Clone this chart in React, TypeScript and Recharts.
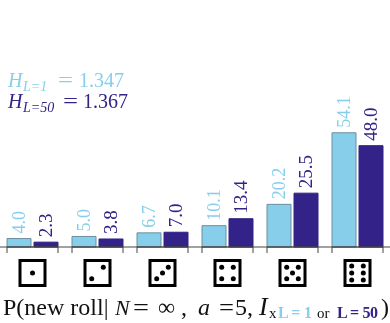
import React from "react"
import { Bar, BarChart, LabelList, XAxis, YAxis } from "recharts"

const faces = [1, 2, 3, 4, 5, 6]
const lowL = [4.0, 5.0, 6.7, 10.1, 20.2, 54.1]
const highL = [2.3, 3.8, 7.0, 13.4, 25.5, 48.0]

const data = faces.map((face, i) => ({ face, lowL: lowL[i], highL: highL[i] }))

const LIGHT = "#87ceeb"
const DARK = "#332288"
const FONT = "'Liberation Serif', serif"

// pip offsets for the die icons
const a = 5.8
const pips: Record<number, [number, number][]> = {
  1: [[0, 0]],
  2: [[a, -a], [-a, a]],
  3: [[a, -a], [0, 0], [-a, a]],
  4: [[-a, -a], [a, -a], [-a, a], [a, a]],
  5: [[-a, -a], [a, -a], [0, 0], [-a, a], [a, a]],
  6: [[-a, -7], [a, -7], [-a, 0], [a, 0], [-a, 7], [a, 7]],
}

function DieTick({ x, y, payload }: any) {
  const cy = y + 26
  return (
    <g>
      <path d={`M${x - 25.5} ${y + 6}V${y}H${x + 25.5}V${y + 6}`} fill="none" stroke="#444" strokeWidth={1} />
      <rect x={x - 12.5} y={cy - 12.5} width={25} height={25} fill="#fff" stroke="#000" strokeWidth={3} />
      {pips[payload.value].map(([dx, dy], i) => (
        <circle key={i} cx={x + dx} cy={cy + dy} r={2.5} fill="#000" />
      ))}
    </g>
  )
}

function ValueLabel({ x, y, width, value, fill, fontSize }: any) {
  const cx = x + width / 2
  const top = y - 5
  return (
    <text
      x={cx}
      y={top}
      transform={`rotate(-90 ${cx} ${top})`}
      dominantBaseline="central"
      fill={fill}
      fontSize={fontSize}
      fontFamily={FONT}
    >
      {Number(value).toFixed(1)}
    </text>
  )
}

function Entropy({ y, fill, sub, eqX, valueX, value }: any) {
  return (
    <g fill={fill}>
      <text x={8} y={y} fontSize={20} fontStyle="italic">H</text>
      <text x={23} y={y + 4} fontSize={14} fontStyle="italic">{sub}</text>
      <text x={eqX} y={y} fontSize={20} textLength={15} lengthAdjust="spacingAndGlyphs">=</text>
      <text x={valueX} y={y} fontSize={20}>{value}</text>
    </g>
  )
}

// annotations sit in their own svg on top of the chart
function Annotations() {
  return (
    <svg
      width={390}
      height={323}
      fontFamily={FONT}
      style={{ position: "absolute", left: 0, top: 0 }}
    >
      <Entropy y={87} fill={LIGHT} sub="L=1" eqX={58} valueX={79} value="1.347" />
      <Entropy y={108} fill={DARK} sub="L=50" eqX={63} valueX={83} value="1.367" />
      <g fontSize={24} fill="#111">
        <text x={3} y={315}>P(new roll|</text>
        <text x={115} y={315} fontStyle="italic" fontSize={22}>N</text>
        <text x={133} y={315} textLength={16} lengthAdjust="spacingAndGlyphs">=</text>
        <text x={158} y={315}>∞</text>
        <text x={181} y={315}>,</text>
        <text x={198} y={315} fontStyle="italic">a</text>
        <text x={219} y={315} textLength={15} lengthAdjust="spacingAndGlyphs">=</text>
        <text x={235} y={315}>5</text>
        <text x={247} y={315}>,</text>
        <text x={259} y={315} fontStyle="italic" fontSize={26}>I</text>
        <text x={269} y={318} fontSize={15}>x</text>
        <text x={278} y={318} fontSize={16} fontWeight="bold" fill={LIGHT} textLength={34}>L = 1</text>
        <text x={317} y={318} fontSize={15}>or</text>
        <text x={337} y={318} fontSize={16} fontWeight="bold" fill={DARK} textLength={41}>L = 50</text>
        <text x={381} y={315}>)</text>
      </g>
    </svg>
  )
}

export default function App() {
  return (
    <div style={{ position: "fixed", left: 0, top: 0, width: 390, height: 323 }}>
      <style>{`html,body{margin:0;padding:0}`}</style>
      <BarChart
        width={390}
        height={323}
        data={data}
        margin={{ top: 0, right: 0, bottom: 0, left: 0 }}
        barSize={24}
        barGap={3}
      >
        <XAxis
          dataKey="face"
          height={76}
          tickLine={false}
          tickSize={0}
          tickMargin={0}
          interval={0}
          stroke="#444"
          tick={DieTick}
        />
        <YAxis hide width={0} domain={[0, 117]} />
        <Bar dataKey="lowL" fill={LIGHT} stroke="#6b8f9f" strokeWidth={1} isAnimationActive={false}>
          <LabelList dataKey="lowL" content={(p: any) => <ValueLabel {...p} fill={LIGHT} fontSize={18} />} />
        </Bar>
        <Bar dataKey="highL" fill={DARK} stroke={DARK} strokeWidth={1} isAnimationActive={false}>
          <LabelList dataKey="highL" content={(p: any) => <ValueLabel {...p} fill={DARK} fontSize={19} />} />
        </Bar>
      </BarChart>
      <Annotations />
    </div>
  )
}
